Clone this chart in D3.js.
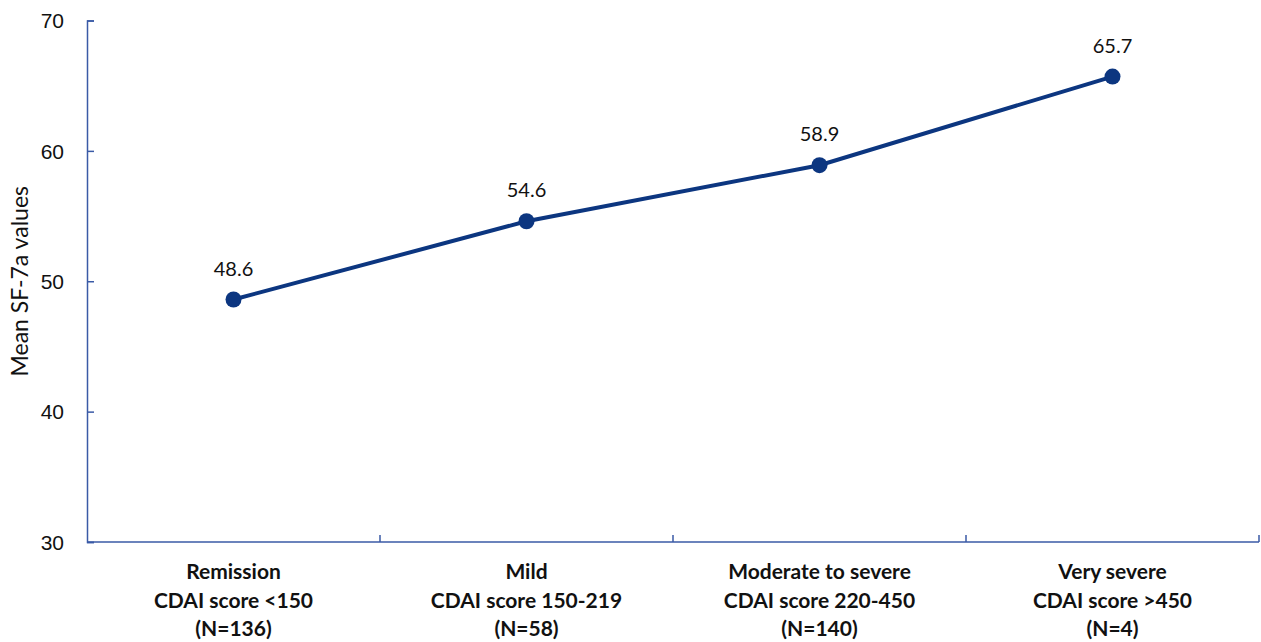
<!DOCTYPE html>
<html>
<head>
<meta charset="utf-8">
<script src="https://cdn.jsdelivr.net/npm/d3@7"></script>
<style>
  html, body { margin: 0; padding: 0; background: #fff; }
  svg { display: block; font-family: Lato, "Open Sans", sans-serif; }
</style>
</head>
<body>
<svg id="chart" width="1261" height="642"></svg>
<script>
// Category labels (multi-line), values and y-axis ticks
const categoryNames = ["Remission", "Mild", "Moderate to severe", "Very severe"];
const categoryScores = ["CDAI score <150", "CDAI score 150-219", "CDAI score 220-450", "CDAI score >450"];
const categoryCounts = ["(N=136)", "(N=58)", "(N=140)", "(N=4)"];
const meanValues = [48.6, 54.6, 58.9, 65.7];
const yTicks = [30, 40, 50, 60, 70];
const yTitle = "Mean SF-7a values";

const svg = d3.select("#chart");
const margin = { left: 87, right: 2, top: 20.5, bottom: 100 };
const W = 1261, H = 642;
const axisColor = "#3a5aa6";
const lineColor = "#0c3680";

const x = d3.scaleBand()
  .domain(categoryNames)
  .range([margin.left, W - margin.right])
  .padding(0);

const y = d3.scaleLinear()
  .domain([30, 70])
  .range([H - margin.bottom, margin.top]);

// y axis (ticks point inward)
const yAxis = svg.append("g")
  .attr("transform", `translate(${margin.left},0)`)
  .call(d3.axisLeft(y).tickValues(yTicks).tickSize(-7));
yAxis.select(".domain").attr("stroke", axisColor).attr("stroke-width", 1.5);
yAxis.selectAll(".tick line").attr("stroke", axisColor).attr("stroke-width", 1.5);
yAxis.selectAll(".tick text")
  .attr("fill", "#111").style("font-size", "21px")
  .attr("x", -23).attr("dy", "0.34em").attr("text-anchor", "end");

// x axis with ticks at category boundaries
const boundaries = categoryNames.map(c => x(c)).concat([x.range()[1]]);
const xAxisG = svg.append("g").attr("transform", `translate(0,${y(30)})`);
xAxisG.append("line")
  .attr("x1", margin.left).attr("x2", W - margin.right)
  .attr("stroke", axisColor).attr("stroke-width", 1.5);
xAxisG.selectAll("line.tk").data(boundaries.slice(1)).join("line")
  .attr("class", "tk")
  .attr("x1", d => d).attr("x2", d => d)
  .attr("y1", 0).attr("y2", -7)
  .attr("stroke", axisColor).attr("stroke-width", 1.5);

// category labels
const labelG = svg.append("g");
categoryNames.forEach((c, i) => {
  const cx = x(c) + x.bandwidth() / 2;
  const t = labelG.append("text")
    .attr("x", cx)
    .attr("y", 579)
    .attr("text-anchor", "middle")
    .attr("fill", "#111")
    .style("font-size", "21px")
    .style("font-weight", "bold");
  [c, categoryScores[i], categoryCounts[i]].forEach((line, k) => {
    t.append("tspan")
      .attr("x", cx)
      .attr("dy", k === 0 ? 0 : 28.5)
      .text(line);
  });
});

// y title
svg.append("text")
  .attr("transform", `translate(28,${(y(30) + y(70)) / 2}) rotate(-90)`)
  .attr("text-anchor", "middle")
  .attr("fill", "#111")
  .style("font-size", "23px")
  .text(yTitle);

// line series
const pts = categoryNames.map((c, i) => ({ c, v: meanValues[i] }));
const line = d3.line()
  .x(d => x(d.c) + x.bandwidth() / 2)
  .y(d => y(d.v));

svg.append("path")
  .datum(pts)
  .attr("d", line)
  .attr("fill", "none")
  .attr("stroke", lineColor)
  .attr("stroke-width", 4);

svg.selectAll("circle.pt").data(pts).join("circle")
  .attr("class", "pt")
  .attr("cx", d => x(d.c) + x.bandwidth() / 2)
  .attr("cy", d => y(d.v))
  .attr("r", 8)
  .attr("fill", lineColor);

svg.selectAll("text.val").data(pts).join("text")
  .attr("class", "val")
  .attr("x", d => x(d.c) + x.bandwidth() / 2)
  .attr("y", d => y(d.v) - 24)
  .attr("text-anchor", "middle")
  .attr("fill", "#111")
  .style("font-size", "20px")
  .text(d => d.v.toFixed(1));
</script>
</body>
</html>
